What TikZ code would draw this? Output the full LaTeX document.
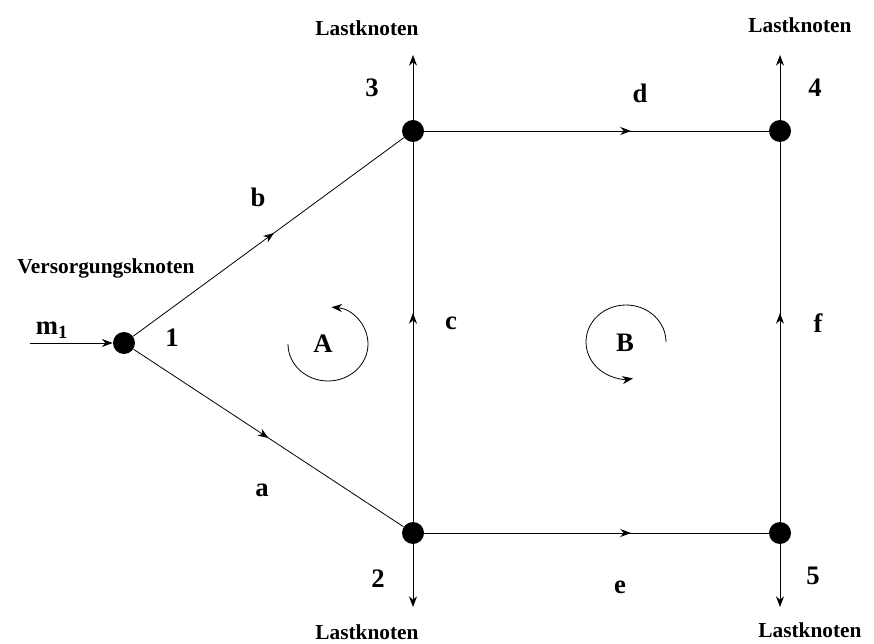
\documentclass[tikz,border=0pt]{standalone}
\usepackage{fontspec}
\setmainfont{Liberation Serif}
\usetikzlibrary{arrows.meta,positioning,decorations.markings}

\tikzset{
  knot/.style={circle, fill=black, inner sep=0pt, minimum size=16.5pt},
  lbl/.style={font=\bfseries\fontsize{20}{22}\selectfont},
  kntxt/.style={font=\bfseries\fontsize{16}{18}\selectfont},
  flow/.style={decoration={markings, mark=at position #1 with {\arrow{Stealth[length=8pt,width=6pt]}}}, postaction={decorate}},
  flow/.default=0.5
}

\begin{document}
\begin{tikzpicture}[x=0.75pt, y=0.75pt, line width=0.6pt, >={Stealth[length=8pt,width=6pt]}]
    \useasboundingbox (0,0) rectangle (874,643);
    % Knoten
    \node[knot] (n1) at (124,300) {};
    \node[knot] (n2) at (413,110) {};
    \node[knot] (n3) at (413,512) {};
    \node[knot] (n4) at (780,512) {};
    \node[knot] (n5) at (780,110) {};
    % Straenge
    \draw[flow=0.5] (n1) -- (n2);
    \draw[flow=0.52] (n1) -- (n3);
    \draw[flow=0.55] (n2) -- (n3);
    \draw[flow=0.6] (n3) -- (n4);
    \draw[flow=0.6] (n2) -- (n5);
    \draw[flow=0.55] (n5) -- (n4);
    % Einspeisung und Entnahmen
    \coordinate (in1) at (30,300);
    \coordinate (out2) at (413,36);
    \coordinate (out3) at (413,588);
    \coordinate (out4) at (780,588);
    \coordinate (out5) at (780,36);
    \draw[->] (in1) -- (n1);
    \draw[->] (n2) -- (out2);
    \draw[->] (n3) -- (out3);
    \draw[->] (n4) -- (out4);
    \draw[->] (n5) -- (out5);
    % Maschen
    \draw[->] (328,299) ++(180:40 and 37) arc[start angle=180, end angle=445, x radius=40, y radius=37];
    \draw[->] (626,301) ++(0:40 and 37) arc[start angle=0, end angle=280, x radius=40, y radius=37];
    % Beschriftung
    \node[kntxt] (t3) at (367,615) {Lastknoten};
    \node[kntxt] (t4) at (800,618) {Lastknoten};
    \node[kntxt] (t2) at (367,11) {Lastknoten};
    \node[kntxt] (t5) at (810,13) {Lastknoten};
    \node[kntxt] (tv) at (106,375) {Versorgungsknoten};
    \node[lbl] (tm) at (52,313) {m\textsubscript{1}};
    \node[lbl] (l1) at (172,305) {1};
    \node[lbl] (l2) at (378,64) {2};
    \node[lbl] (l3) at (372,555) {3};
    \node[lbl] (l4) at (815,555) {4};
    \node[lbl] (l5) at (813,67) {5};
    \node[lbl] (la) at (262,153) {a};
    \node[lbl] (lb) at (258,446) {b};
    \node[lbl] (lc) at (451,320) {c};
    \node[lbl] (ld) at (640,550) {d};
    \node[lbl] (le) at (620,56) {e};
    \node[lbl] (lf) at (818,320) {f};
    \node[lbl] (lA) at (323,299) {A};
    \node[lbl] (lB) at (625,300) {B};
  \end{tikzpicture}
\end{document}
